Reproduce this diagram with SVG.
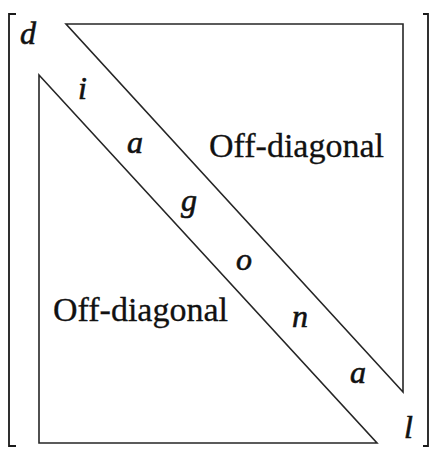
<svg xmlns="http://www.w3.org/2000/svg" width="431" height="449" viewBox="0 0 431 449">
<style>
.ln{fill:none;stroke:#262626;stroke-width:1.6;stroke-linejoin:miter}
.br{fill:none;stroke:#1a1a1a;stroke-width:1.8}
.lbl{font-family:"Liberation Serif","Times New Roman",serif;font-size:34px;fill:#111;stroke:#111;stroke-width:0.3}
.it{font-family:"Liberation Serif","Times New Roman",serif;font-style:italic;font-size:32px;fill:#111;stroke:#111;stroke-width:0.6}
</style>
<rect width="431" height="449" fill="#fff"/>
<g id="brackets">
<path class="br" d="M16,14 H9 V446 H16"/>
<path class="br" d="M423,14 H428 V446 H423"/>
</g>
<g id="upper-triangle">
<path class="ln" d="M66,24 H403 V392 Z"/>
<text class="lbl" x="209" y="157">Off-diagonal</text>
</g>
<g id="lower-triangle">
<path class="ln" d="M39,75 V443 H377 Z"/>
<text class="lbl" x="53" y="321">Off-diagonal</text>
</g>
<g id="diagonal">
<text class="it" x="20" y="44">d</text>
<text class="it" x="78" y="99">i</text>
<text class="it" x="127" y="153">a</text>
<text class="it" x="181" y="211">g</text>
<text class="it" x="236" y="270">o</text>
<text class="it" x="292" y="327">n</text>
<text class="it" x="350" y="383">a</text>
<text class="it" x="404" y="438">l</text>
</g>
</svg>
